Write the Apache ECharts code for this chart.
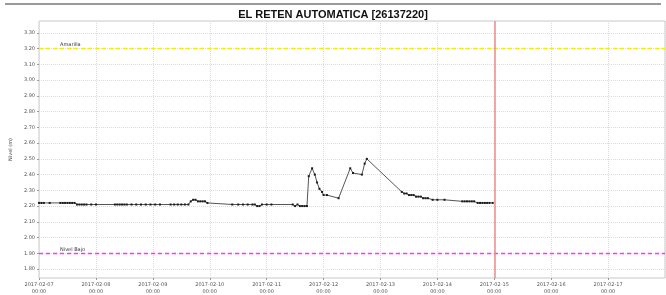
<!DOCTYPE html>
<html>
<head>
<meta charset="utf-8">
<script src="https://cdn.jsdelivr.net/npm/echarts@6/dist/echarts.min.js"></script>
<style>
    html, body { margin: 0; padding: 0; background: #fff; }
    #chart { width: 666px; height: 295px; }
</style>
</head>
<body>
<div id="chart"></div>
<script>
var titulo = 'EL RETEN AUTOMATICA [26137220]'
// lecturas de nivel (m), hora local 2017-02
var tiempos = [
    '02-07 00:00', '02-07 01:00', '02-07 02:00', '02-07 04:30', '02-07 09:00', '02-07 10:00', '02-07 11:00',
    '02-07 12:00', '02-07 13:00', '02-07 14:00', '02-07 15:00', '02-07 16:00', '02-07 17:00', '02-07 18:00',
    '02-07 19:00', '02-07 20:00', '02-07 22:00', '02-08 00:00', '02-08 08:00', '02-08 09:00', '02-08 10:00',
    '02-08 11:00', '02-08 12:00', '02-08 13:00', '02-08 15:00', '02-08 17:00', '02-08 19:00', '02-08 21:00',
    '02-08 23:00', '02-09 01:00', '02-09 03:00', '02-09 07:30', '02-09 09:00', '02-09 10:30', '02-09 12:00',
    '02-09 13:30', '02-09 15:00', '02-09 16:00', '02-09 17:00', '02-09 18:00', '02-09 19:00', '02-09 20:00',
    '02-09 21:00', '02-09 22:00', '02-09 23:00', '02-10 09:30', '02-10 12:00', '02-10 14:00', '02-10 16:00',
    '02-10 18:00', '02-10 19:00', '02-10 20:00', '02-10 21:00', '02-10 22:00', '02-11 00:00', '02-11 02:00',
    '02-11 11:00', '02-11 12:00', '02-11 13:00', '02-11 14:00', '02-11 15:00', '02-11 16:00', '02-11 17:00',
    '02-11 17:45', '02-11 19:10', '02-11 20:20', '02-11 21:15', '02-11 22:15', '02-11 23:20', '02-12 00:00',
    '02-12 01:25', '02-12 06:20', '02-12 11:15', '02-12 12:25', '02-12 16:10', '02-12 17:20', '02-12 18:15',
    '02-13 09:00', '02-13 10:00', '02-13 11:00', '02-13 12:00', '02-13 13:00', '02-13 14:00', '02-13 15:00',
    '02-13 16:00', '02-13 17:00', '02-13 18:00', '02-13 19:00', '02-13 20:00', '02-13 22:00', '02-14 00:00',
    '02-14 03:00', '02-14 10:30', '02-14 11:30', '02-14 12:30', '02-14 13:30', '02-14 14:30', '02-14 15:30',
    '02-14 17:00', '02-14 18:00', '02-14 19:00', '02-14 20:00', '02-14 21:00', '02-14 22:00', '02-14 23:20'
]
var niveles = [
    2.22, 2.22, 2.22, 2.22, 2.22, 2.22, 2.22,
    2.22, 2.22, 2.22, 2.22, 2.21, 2.21, 2.21,
    2.21, 2.21, 2.21, 2.21, 2.21, 2.21, 2.21,
    2.21, 2.21, 2.21, 2.21, 2.21, 2.21, 2.21,
    2.21, 2.21, 2.21, 2.21, 2.21, 2.21, 2.21,
    2.21, 2.21, 2.23, 2.24, 2.24, 2.23, 2.23,
    2.23, 2.23, 2.22, 2.21, 2.21, 2.21, 2.21,
    2.21, 2.21, 2.20, 2.20, 2.21, 2.21, 2.21,
    2.21, 2.20, 2.21, 2.20, 2.20, 2.20, 2.20,
    2.39, 2.44, 2.40, 2.35, 2.31, 2.29, 2.27,
    2.27, 2.25, 2.44, 2.41, 2.40, 2.47, 2.50,
    2.29, 2.28, 2.28, 2.27, 2.27, 2.27, 2.26,
    2.26, 2.26, 2.25, 2.25, 2.25, 2.24, 2.24,
    2.24, 2.23, 2.23, 2.23, 2.23, 2.23, 2.23,
    2.22, 2.22, 2.22, 2.22, 2.22, 2.22, 2.22
]
var nivelAmarilla = 3.20
var nivelBajo = 1.90
var fechaActual = '02-15 00:00'
var ticksY = [1.80, 1.90, 2.00, 2.10, 2.20, 2.30, 2.40, 2.50, 2.60, 2.70, 2.80, 2.90, 3.00, 3.10, 3.20, 3.30]

function ms(s) {
    // '02-07 15:00' -> UTC ms
    var mes = parseInt(s.substr(0, 2), 10) - 1
    var dia = parseInt(s.substr(3, 2), 10)
    var h = parseInt(s.substr(6, 2), 10)
    var m = parseInt(s.substr(9, 2), 10)
    return Date.UTC(2017, mes, dia, h, m)
}
function pad(n) { return n < 10 ? '0' + n : '' + n }

var serie = []
for (var i = 0; i < tiempos.length; i++) serie.push([ms(tiempos[i]), niveles[i]])

var DIA = 86400000
var fuente = 'DejaVu Sans'
var myChart = echarts.init(document.getElementById('chart'))
var option = {
    animation: false,
    backgroundColor: '#fff',
    title: {
        text: titulo,
        left: 'center',
        top: 4,
        textStyle: { fontFamily: 'Liberation Sans', fontWeight: 'bold', fontSize: 11, color: '#111' }
    },
    graphic: [{
        type: 'line',
        shape: { x1: 5, y1: 4, x2: 661, y2: 4 },
        style: { stroke: '#777', lineWidth: 1.5 }
    }],
    grid: {
        left: 36, right: 1, top: 21, bottom: 17,
        show: true, borderColor: '#c8c8c8', borderWidth: 1
    },
    xAxis: {
        type: 'value',
        min: ms('02-07 00:00'),
        max: ms('02-18 00:00'),
        interval: DIA,
        axisLine: { show: false },
        axisTick: { show: true, length: 2, lineStyle: { color: '#999' } },
        axisLabel: {
            showMaxLabel: false,
            fontFamily: fuente, fontSize: 5, color: '#555', margin: 3, lineHeight: 7,
            formatter: function (v) {
                var d = new Date(v)
                return d.getUTCFullYear() + '-' + pad(d.getUTCMonth() + 1) + '-' + pad(d.getUTCDate()) + '\n' +
                    pad(d.getUTCHours()) + ':' + pad(d.getUTCMinutes())
            }
        },
        splitLine: { show: true, lineStyle: { color: '#dcdcdc', type: 'dotted', width: 1 } }
    },
    yAxis: {
        type: 'value',
        min: 1.743,
        max: 3.376,
        name: 'Nivel (m)',
        nameLocation: 'middle',
        nameGap: 24,
        nameTextStyle: { fontFamily: fuente, fontSize: 5, color: '#444' },
        axisLine: { show: false },
        axisTick: { show: true, length: 2, customValues: ticksY, lineStyle: { color: '#999' } },
        axisLabel: {
            customValues: ticksY,
            fontFamily: fuente, fontSize: 5, color: '#555', margin: 4,
            formatter: function (v) { return v.toFixed(2) }
        },
        splitLine: { show: true, lineStyle: { color: '#dcdcdc', type: 'dotted', width: 1 } }
    },
    series: [{
        type: 'line',
        data: serie,
        showSymbol: true,
        symbol: 'rect',
        symbolSize: 2,
        lineStyle: { color: '#555', width: 1 },
        itemStyle: { color: '#1a1a1a' },
        markLine: {
            silent: true,
            symbol: 'none',
            lineStyle: { type: [4, 3], width: 1.3 },
            data: [
                {
                    yAxis: nivelAmarilla,
                    lineStyle: { color: '#f5f000' },
                    label: { show: true, formatter: 'Amarilla', position: 'insideStartTop', distance: [21, 1],
                        fontFamily: fuente, fontSize: 5, color: '#333' }
                },
                {
                    yAxis: nivelBajo,
                    lineStyle: { color: '#ff33ff' },
                    label: { show: true, formatter: 'Nivel Bajo', position: 'insideStartTop', distance: [21, 1],
                        fontFamily: fuente, fontSize: 5, color: '#333' }
                },
                {
                    xAxis: ms(fechaActual),
                    lineStyle: { color: '#f08a8a', type: 'solid', width: 1.5 },
                    label: { show: false }
                }
            ]
        }
    }]
}
myChart.setOption(option)
</script>
</body>
</html>
